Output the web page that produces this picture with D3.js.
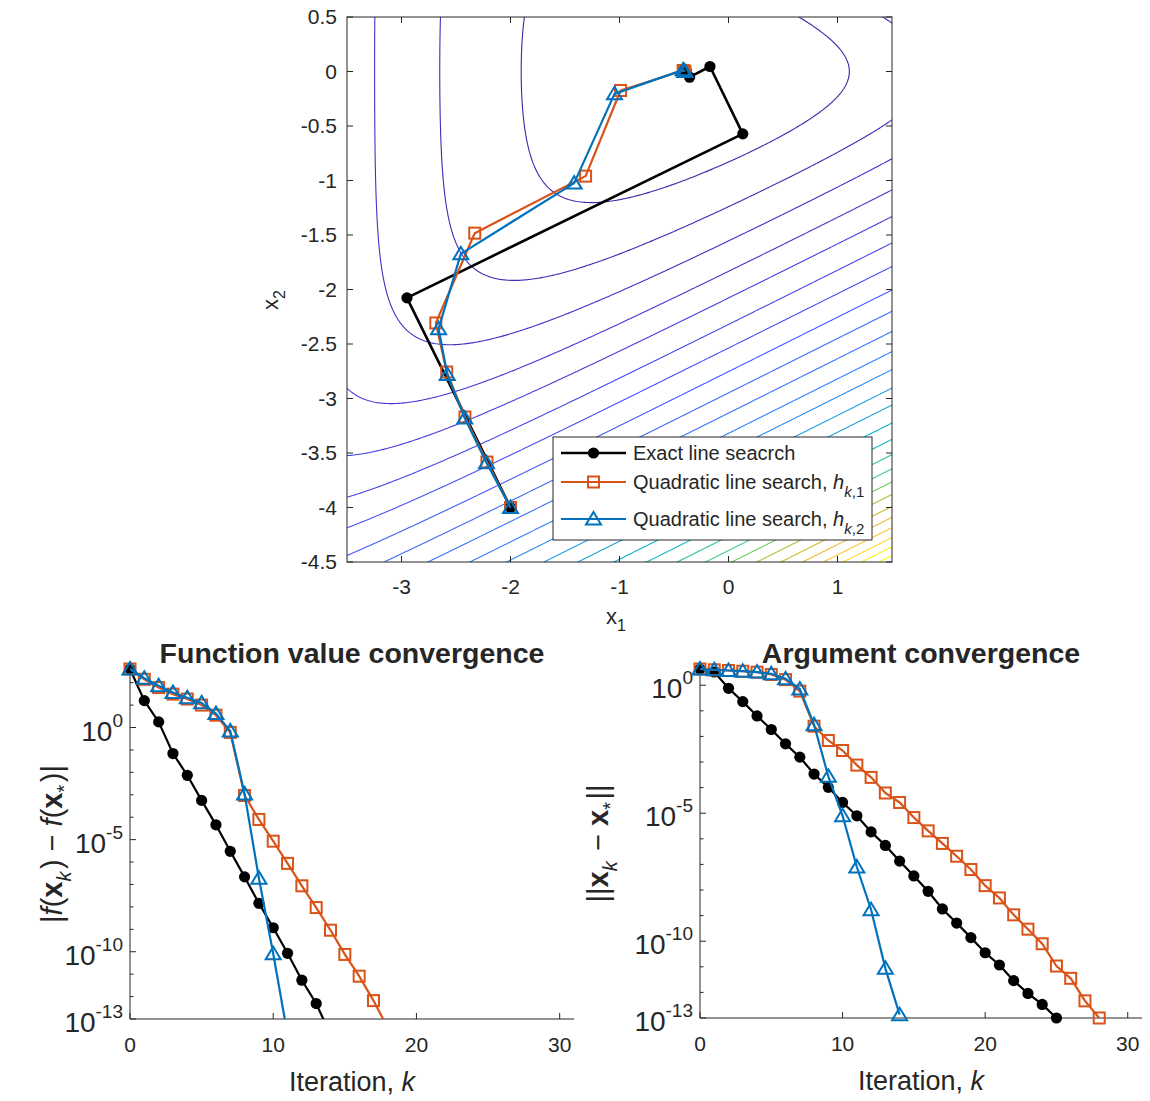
<!DOCTYPE html>
<html>
<head>
<meta charset="utf-8">
<script src="https://cdn.jsdelivr.net/npm/d3@7"></script>
<style>
  body { margin: 0; background: #fff; }
  text { font-family: "Liberation Sans", Arial, Helvetica, sans-serif; fill: #262626; }
</style>
</head>
<body>
<div id="chart"></div>
<script>
// ---- data ----
// contour levels of log f(x), f = e^(x1-2x2) + e^(x1+2x2) + e^(-x1-0.1)
const contourLevels = [1.85, 2.56, 3.15, 3.69, 4.17, 4.65, 5.08, 5.51, 5.90, 6.27, 6.64, 6.97,
  7.31, 7.62, 7.95, 8.25, 8.53, 8.79, 9.03, 9.26, 9.48, 9.68, 9.87, 10.05, 10.22, 10.38];

// iterates in the (x1, x2) plane
const exactX1 = [-2, -2.95, 0.131, -0.17, -0.357, -0.388, -0.398, -0.40];
const exactX2 = [-4, -2.077, -0.572, 0.046, -0.052, 0.008, -0.003, 0.0];
const quad1X1 = [-2, -2.216, -2.418, -2.585, -2.685, -2.328, -1.311, -0.99, -0.416, -0.405, -0.40];
const quad1X2 = [-4, -3.583, -3.17, -2.757, -2.307, -1.483, -0.96, -0.174, 0.009, 0.004, 0.0];
const quad2X1 = [-2, -2.22, -2.42, -2.58, -2.66, -2.456, -1.416, -1.046, -0.416, -0.401, -0.40];
const quad2X2 = [-4, -3.59, -3.18, -2.78, -2.36, -1.673, -1.024, -0.205, 0.015, 0.001, 0.0];

// log10 |f(x_k) - f(x*)|, k = 0,1,2,...
const fGapExact = [2.61, 1.2, 0.25, -1.16, -2.13, -3.25, -4.34, -5.52, -6.66, -7.84, -8.93,
  -10.07, -11.27, -12.31, -13.7];
const fGapQuad1 = [2.61, 2.15, 1.78, 1.49, 1.27, 1.0, 0.55, -0.22, -3.03, -4.10, -5.07, -6.06,
  -7.06, -8.03, -9.04, -10.12, -11.09, -12.18, -13.4];
const fGapQuad2 = [2.61, 2.2, 1.86, 1.56, 1.33, 1.1, 0.62, -0.15, -2.96, -6.72, -10.09, -13.7];

// log10 ||x_k - x*||
const xGapExact = [0.634, 0.517, -0.12, -0.64, -1.2, -1.73, -2.29, -2.81, -3.47, -3.99, -4.58,
  -5.1, -5.73, -6.26, -6.87, -7.45, -8.05, -8.74, -9.29, -9.86, -10.45, -10.93, -11.54, -12.04,
  -12.47, -13.0];
const xGapQuad1 = [0.634, 0.603, 0.575, 0.546, 0.511, 0.42, 0.22, -0.23, -1.6, -2.16, -2.55,
  -3.12, -3.6, -4.21, -4.58, -5.17, -5.69, -6.18, -6.68, -7.2, -7.83, -8.31, -8.97, -9.53,
  -10.1, -10.97, -11.45, -12.33, -13.0];
const xGapQuad2 = [0.634, 0.605, 0.576, 0.548, 0.514, 0.45, 0.25, -0.15, -1.54, -3.56, -5.10,
  -7.10, -8.77, -11.06, -12.87];

const topTicksX = [-3, -2, -1, 0, 1];
const topTicksY = [0.5, 0, -0.5, -1, -1.5, -2, -2.5, -3, -3.5, -4, -4.5];
const iterTicks = [0, 10, 20, 30];
const logTicks = [-13, -10, -5, 0];

const legendNames = ["Exact line seacrch", "Quadratic line search, ", "Quadratic line search, "];
const legendSubs = [null, ",1", ",2"];

// ---- styling ----
const ink = "#262626";
const colors = ["#000000", "#D95319", "#0072BD"];
// parula, sampled every 1/16
const parula = ["#3e26a8", "#4537d5", "#484cf0", "#4563fd", "#327bfc", "#2b91ef", "#20a5e3",
  "#01b8ca", "#19bfb6", "#37c897", "#63cd6f", "#9dc943", "#d1bf27", "#f8ba3d", "#fccf30",
  "#f5ef20", "#f9fb14"];

const svg = d3.select("#chart").append("svg")
  .attr("width", 1150)
  .attr("height", 1101);

// ================= top panel: contours + iterates =================
const xTop = d3.scaleLinear().domain([-3.5, 1.5]).range([347, 892]);
const yTop = d3.scaleLinear().domain([-4.5, 0.5]).range([562, 17]);

svg.append("clipPath").attr("id", "clipTop")
  .append("rect")
  .attr("x", 347).attr("y", 17).attr("width", 545).attr("height", 545);

// sample the field on a grid a bit larger than the axes
const nx = 330, ny = 330;
const gx0 = -3.7, gx1 = 1.7, gy0 = -4.7, gy1 = 0.7;
const dx = (gx1 - gx0) / (nx - 1), dy = (gy1 - gy0) / (ny - 1);
const field = new Float64Array(nx * ny);
for (let j = 0; j < ny; j++) {
  for (let i = 0; i < nx; i++) {
    let a = gx0 + i * dx, b = gy1 - j * dy;
    field[j * nx + i] = Math.log(Math.exp(a - 2 * b) + Math.exp(a + 2 * b) + Math.exp(-a - 0.1));
  }
}
const contours = d3.contours().size([nx, ny]).thresholds(contourLevels)(field);

const gridToScreen = d3.geoTransform({
  point: function(x, y) {
    this.stream.point(xTop(gx0 + (x - 0.5) * dx), yTop(gy1 - (y - 0.5) * dy));
  }
});
const contourPath = d3.geoPath(gridToScreen);

// colour goes with f^0.3 between the lowest and highest level
const levelColour = d3.scalePow().exponent(0.3)
  .domain([Math.exp(contourLevels[0]), Math.exp(contourLevels[contourLevels.length - 1])])
  .range([0, 1]);
const parulaInterp = d3.piecewise(d3.interpolateRgb, parula);

svg.append("g")
  .attr("clip-path", "url(#clipTop)")
  .selectAll("path")
  .data(contours)
  .join("path")
  .attr("d", contourPath)
  .attr("fill", "none")
  .attr("stroke", d => parulaInterp(levelColour(Math.exp(d.value))))
  .attr("stroke-width", 1.1);

// frame and ticks (box on, ticks inward on all sides)
svg.append("rect")
  .attr("x", 347).attr("y", 17).attr("width", 545).attr("height", 545)
  .attr("fill", "none").attr("stroke", ink).attr("stroke-width", 1);

const tickG = svg.append("g").attr("stroke", ink).attr("stroke-width", 1);
topTicksX.forEach(t => {
  tickG.append("line").attr("x1", xTop(t)).attr("x2", xTop(t)).attr("y1", 562).attr("y2", 556);
  tickG.append("line").attr("x1", xTop(t)).attr("x2", xTop(t)).attr("y1", 17).attr("y2", 23);
});
topTicksY.forEach(t => {
  tickG.append("line").attr("x1", 347).attr("x2", 353).attr("y1", yTop(t)).attr("y2", yTop(t));
  tickG.append("line").attr("x1", 892).attr("x2", 886).attr("y1", yTop(t)).attr("y2", yTop(t));
});

svg.append("g").selectAll("text")
  .data(topTicksX).join("text")
  .attr("x", d => xTop(d)).attr("y", 594)
  .attr("text-anchor", "middle").style("font-size", "21px")
  .text(d => d);
svg.append("g").selectAll("text")
  .data(topTicksY).join("text")
  .attr("x", 337).attr("y", d => yTop(d) + 7)
  .attr("text-anchor", "end").style("font-size", "21px")
  .text(d => d);

// axis labels x1, x2
let xl = svg.append("text").attr("x", 606).attr("y", 624).style("font-size", "22px");
xl.append("tspan").text("x");
xl.append("tspan").attr("dy", 7).style("font-size", "16px").text("1");
let yl = svg.append("text").attr("transform", "translate(278,310) rotate(-90)").style("font-size", "22px");
yl.append("tspan").text("x");
yl.append("tspan").attr("dy", 7).style("font-size", "16px").text("2");

// iterate paths
const topSeries = [
  { x: exactX1, y: exactX2, marker: "circle", width: 2.6 },
  { x: quad1X1, y: quad1X2, marker: "square", width: 2.2 },
  { x: quad2X1, y: quad2X2, marker: "triangle", width: 2.2 }
];

function drawMarker(g, px, py, type, colour) {
  if (type === "circle") {
    g.append("circle").attr("cx", px).attr("cy", py).attr("r", 5.6).attr("fill", colour);
  } else if (type === "square") {
    g.append("rect").attr("x", px - 5.5).attr("y", py - 5.5).attr("width", 11).attr("height", 11)
      .attr("fill", "none").attr("stroke", colour).attr("stroke-width", 2);
  } else {
    g.append("path")
      .attr("d", `M${px},${py - 7}L${px + 7.5},${py + 5.5}L${px - 7.5},${py + 5.5}Z`)
      .attr("fill", "none").attr("stroke", colour).attr("stroke-width", 2)
      .attr("stroke-linejoin", "miter");
  }
}

topSeries.forEach((s, si) => {
  let pts = s.x.map((v, i) => [xTop(v), yTop(s.y[i])]);
  let g = svg.append("g");
  g.append("path")
    .attr("d", d3.line()(pts))
    .attr("fill", "none").attr("stroke", colors[si]).attr("stroke-width", s.width)
    .attr("stroke-linejoin", "round");
  pts.forEach(p => drawMarker(g, p[0], p[1], s.marker, colors[si]));
});

// legend
const lg = svg.append("g");
lg.append("rect").attr("x", 553).attr("y", 437).attr("width", 319).attr("height", 103)
  .attr("fill", "#fff").attr("stroke", ink).attr("stroke-width", 1);
const legendRows = [453, 482, 519];
topSeries.forEach((s, si) => {
  let yy = legendRows[si];
  lg.append("line").attr("x1", 561).attr("x2", 626).attr("y1", yy).attr("y2", yy)
    .attr("stroke", colors[si]).attr("stroke-width", s.width);
  drawMarker(lg, 593.5, yy, s.marker, colors[si]);
  let t = lg.append("text").attr("x", 633).attr("y", yy + 7).style("font-size", "20px");
  t.append("tspan").text(legendNames[si]);
  if (legendSubs[si]) {
    t.append("tspan").style("font-style", "italic").text("h");
    t.append("tspan").attr("dy", 8).style("font-size", "15px").style("font-style", "italic").text("k");
    t.append("tspan").style("font-size", "15px").text(legendSubs[si]);
  }
});

// ================= bottom panels: convergence =================
function convergencePanel(opt) {
  const x = d3.scaleLinear().domain([0, 31]).range([opt.left, opt.right]);
  const y = d3.scaleLinear().domain([-13, opt.topExp]).range([opt.bottom, opt.top]);
  const id = "clip" + opt.name;
  svg.append("clipPath").attr("id", id).append("rect")
    .attr("x", opt.left).attr("y", opt.top - 40)
    .attr("width", opt.right - opt.left + 20).attr("height", opt.bottom - opt.top + 40);

  const g = svg.append("g");
  // axes lines
  g.append("line").attr("x1", opt.left).attr("x2", opt.left).attr("y1", opt.top).attr("y2", opt.bottom)
    .attr("stroke", ink).attr("stroke-width", 1);
  g.append("line").attr("x1", opt.left).attr("x2", opt.right).attr("y1", opt.bottom).attr("y2", opt.bottom)
    .attr("stroke", ink).attr("stroke-width", 1);
  // decade ticks (minor) and labelled ticks
  d3.range(-13, Math.floor(opt.topExp) + 1).forEach(e => {
    let major = logTicks.includes(e);
    g.append("line").attr("x1", opt.left).attr("x2", opt.left + (major ? 6 : 3.5))
      .attr("y1", y(e)).attr("y2", y(e)).attr("stroke", ink).attr("stroke-width", 1);
  });
  iterTicks.forEach(t => {
    g.append("line").attr("x1", x(t)).attr("x2", x(t)).attr("y1", opt.bottom).attr("y2", opt.bottom - 6)
      .attr("stroke", ink).attr("stroke-width", 1);
    g.append("text").attr("x", x(t)).attr("y", opt.bottom + 33)
      .attr("text-anchor", "middle").style("font-size", "21px").text(t);
  });
  logTicks.forEach(e => {
    let t = g.append("text").attr("x", opt.left - 7).attr("y", y(e) + 13)
      .attr("text-anchor", "end").style("font-size", "28px");
    t.append("tspan").text("10");
    t.append("tspan").attr("dy", -14).style("font-size", "19px").text(e);
  });

  // title and labels
  g.append("text").attr("x", (opt.left + opt.right) / 2).attr("y", opt.top - 6)
    .attr("text-anchor", "middle").style("font-size", "28.5px").style("font-weight", "bold")
    .text(opt.title);
  let xt = g.append("text").attr("x", (opt.left + opt.right) / 2).attr("y", opt.bottom + 72)
    .attr("text-anchor", "middle").style("font-size", "27px");
  xt.append("tspan").text("Iteration, ");
  xt.append("tspan").style("font-style", "italic").text("k");
  opt.ylabel(g.append("text")
    .attr("transform", `translate(${opt.ylabelX},${(opt.top + opt.bottom) / 2}) rotate(-90)`)
    .attr("text-anchor", "middle").style("font-size", "29px"));

  const markers = ["circle", "square", "triangle"];
  opt.series.forEach((s, si) => {
    let pts = s.map((v, k) => [x(k), y(v)]);
    g.append("path").attr("clip-path", `url(#${id})`)
      .attr("d", d3.line()(pts))
      .attr("fill", "none").attr("stroke", colors[si]).attr("stroke-width", 2.2);
    pts.forEach((p, k) => {
      if (s[k] >= -13.05) drawMarker(g, p[0], p[1], markers[si], colors[si]);
    });
  });
}

function sub(t, txt, italic) {
  let s = t.append("tspan").attr("dy", 9).style("font-size", "20px").text(txt);
  if (italic) s.style("font-style", "italic");
  t.append("tspan").attr("dy", -9).text("\u200a");
}

convergencePanel({
  name: "F", left: 130, right: 574, top: 669, bottom: 1019, topExp: 2.61,
  title: "Function value convergence", ylabelX: 62,
  series: [fGapExact, fGapQuad1, fGapQuad2],
  ylabel: t => {
    t.append("tspan").text("|");
    t.append("tspan").style("font-style", "italic").text("f");
    t.append("tspan").text("(");
    t.append("tspan").style("font-weight", "bold").text("x");
    sub(t, "k", true);
    t.append("tspan").text(") \u2212 ");
    t.append("tspan").style("font-style", "italic").text("f");
    t.append("tspan").text("(");
    t.append("tspan").style("font-weight", "bold").text("x");
    sub(t, "*", false);
    t.append("tspan").text(")|");
  }
});

convergencePanel({
  name: "X", left: 700, right: 1142, top: 669, bottom: 1018, topExp: 0.634,
  title: "Argument convergence", ylabelX: 608,
  series: [xGapExact, xGapQuad1, xGapQuad2],
  ylabel: t => {
    t.append("tspan").text("||");
    t.append("tspan").style("font-weight", "bold").text("x");
    sub(t, "k", true);
    t.append("tspan").text(" \u2212 ");
    t.append("tspan").style("font-weight", "bold").text("x");
    sub(t, "*", false);
    t.append("tspan").text("||");
  }
});
</script>
</body>
</html>
